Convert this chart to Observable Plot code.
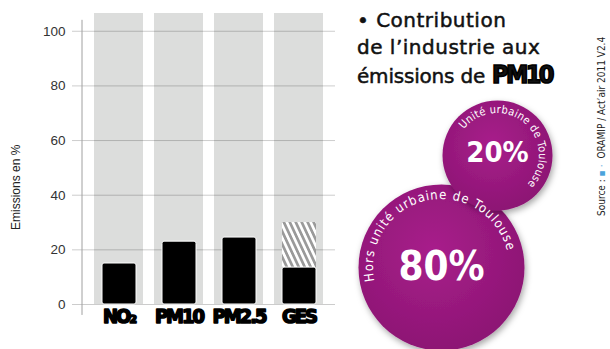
<!DOCTYPE html>
<html><head><meta charset="utf-8">
<script src="https://cdn.jsdelivr.net/npm/d3@7"></script>
<script src="https://cdn.jsdelivr.net/npm/@observablehq/plot@0.6"></script>
<style>
body{margin:0;background:#fff;}
#wrap{position:relative;width:610px;height:349px;overflow:hidden;font-family:"Liberation Sans",Arial,sans-serif;}
#bars,#bubbles{position:absolute;top:0;}
#bars{left:0;} #bubbles{left:340px;}
#title{position:absolute;left:357px;top:7px;font-family:"DejaVu Sans";font-size:20px;line-height:27px;letter-spacing:0.5px;color:#111;white-space:nowrap;-webkit-text-stroke:0.5px #111;}
.tight{letter-spacing:-0.2px;}
.pm{font-family:"DejaVu Sans Condensed","DejaVu Sans";font-weight:bold;font-size:25px;letter-spacing:-2.6px;-webkit-text-stroke:1.6px #000;margin-left:7px;}
#ylabel{position:absolute;left:10px;top:230px;transform:rotate(-90deg);transform-origin:0 0;font-size:12px;line-height:12px;white-space:nowrap;color:#222;}
#source{position:absolute;left:597px;top:216px;transform:rotate(-90deg);transform-origin:0 0;font-family:"DejaVu Sans Condensed","DejaVu Sans";font-size:10px;line-height:10px;white-space:nowrap;color:#222;}
</style></head><body>
<div id="wrap">
  <div id="bars"></div>
  <div id="bubbles"></div>
  <div id="ylabel"></div>
  <div id="title">• Contribution<br>de l’industrie aux<br><span class="tight">émissions de</span><span class="pm">PM10</span></div>
  <div id="source">Source : <span style="color:#4ba3dc;letter-spacing:3px">▪·</span> ORAMIP / Act’air 2011 V2.4</div>
</div>
<script>
// ---- Data ----
const categories = ["NO₂", "PM10", "PM2.5", "GES"];
const industryShare = [15, 23, 24.5, 13.5];
const hatchCategory = ["GES"];
const hatchLow = [13.5];
const hatchHigh = [30];
const yTicks = [0, 20, 40, 60, 80, 100];
const yAxisLabel = "Emissions en %";
const columnTop = 106.5;

const zones = ["Unité urbaine de Toulouse", "Hors unité urbaine de Toulouse"];
const zoneShares = [20, 80];

document.getElementById("ylabel").textContent = yAxisLabel;

// ---- Bar chart ----
const barData = categories.map((c, i) => ({cat: c, value: industryShare[i]}));
const hatchData = hatchCategory.map((c, i) => ({cat: c, y1: hatchLow[i], y2: hatchHigh[i]}));
const labelFont = "Liberation Sans, Arial, sans-serif";

const bars = Plot.plot({
  width: 340, height: 349,
  marginLeft: 72, marginRight: 5, marginTop: 13, marginBottom: 45,
  x: {type: "band", domain: categories, range: [86.7, 330], paddingInner: 0.176, paddingOuter: 0.088, axis: null},
  y: {domain: [0, columnTop], axis: null},
  style: {background: "transparent", overflow: "visible"},
  marks: [
    Plot.barY(categories, {x: d => d, y: () => columnTop, fill: "#dcdddc"}),
    Plot.ruleY(yTicks, {stroke: "#000", strokeOpacity: 0.2}),
    Plot.barY(hatchData, {x: "cat", y1: "y1", y2: "y2", fill: "url(#hatch)", insetLeft: 8, insetRight: 7}),
    Plot.barY(barData, {x: "cat", y: "value", fill: "#000", stroke: "#fff", strokeWidth: 1, insetLeft: 8, insetRight: 7, rx: 2}),
    Plot.text(yTicks, {y: d => d, frameAnchor: "left", dx: -7, textAnchor: "end", fontSize: 13.5, fill: "#333", fontFamily: labelFont}),
    Plot.text(categories, {x: d => d, frameAnchor: "bottom", dy: 18, fontSize: 20, fontWeight: "bold",
      fontFamily: "DejaVu Sans Condensed, DejaVu Sans", fill: "#000", stroke: "#000", strokeWidth: 1.6})
  ]
});
document.getElementById("bars").appendChild(bars);

const bsel = d3.select(bars);
const defs = bsel.insert("defs", ":first-child");
const pat = defs.append("pattern").attr("id", "hatch").attr("patternUnits", "userSpaceOnUse")
  .attr("width", 5.4).attr("height", 10).attr("patternTransform", "rotate(-25)");
pat.append("rect").attr("width", 5.4).attr("height", 10).attr("fill", "#fff");
pat.append("rect").attr("width", 2.7).attr("height", 10).attr("fill", "#9a9a9a");

bsel.selectAll("text").filter(function() { return categories.includes(this.textContent); })
  .style("letter-spacing", "-2px");

const ys = bars.scale("y");
const yf = ys.apply ? ys.apply : d3.scaleLinear(ys.domain, ys.range);
bsel.append("line")
  .attr("x1", 82).attr("x2", 82)
  .attr("y1", yf(104)).attr("y2", yf(-4))
  .attr("stroke", "#a0a0a0").attr("stroke-width", 1);

// ---- Bubbles ----
const bubbleData = zones.map((z, i) => ({zone: z, share: zoneShares[i]}));
const bubbles = Plot.plot({
  width: 270, height: 349, margin: 0,
  x: {type: "point", domain: zones, range: [157, 101], padding: 0, axis: null},
  y: {type: "point", domain: zones, range: [155, 267], padding: 0, axis: null},
  r: {type: "linear", domain: [20, 80], range: [55, 83]},
  style: {background: "transparent", overflow: "visible"},
  marks: [
    Plot.dot(bubbleData, {x: "zone", y: "zone", r: "share", fill: "url(#purple)"}),
    Plot.text(bubbleData.filter(d => d.share === zoneShares[0]), {x: "zone", y: "zone", text: d => d.share + "%",
      fill: "#fff", fontSize: 29, fontWeight: "bold", fontFamily: "DejaVu Sans Condensed, DejaVu Sans", dy: -3}),
    Plot.text(bubbleData.filter(d => d.share === zoneShares[1]), {x: "zone", y: "zone", text: d => d.share + "%",
      fill: "#fff", fontSize: 40, fontWeight: "bold", fontFamily: "DejaVu Sans Condensed, DejaVu Sans", dy: 0})
  ]
});
document.getElementById("bubbles").appendChild(bubbles);

const psel = d3.select(bubbles);
const pdefs = psel.insert("defs", ":first-child");
const grad = pdefs.append("radialGradient").attr("id", "purple").attr("cx", "45%").attr("cy", "40%").attr("r", "60%");
grad.append("stop").attr("offset", "0%").attr("stop-color", "#a81f8b");
grad.append("stop").attr("offset", "100%").attr("stop-color", "#8d1574");
const filt = pdefs.append("filter").attr("id", "shadow").attr("x", "-30%").attr("y", "-30%").attr("width", "160%").attr("height", "160%");
filt.append("feDropShadow").attr("dx", 1.5).attr("dy", 3).attr("stdDeviation", 3).attr("flood-color", "#000").attr("flood-opacity", 0.35);
psel.selectAll("circle").attr("filter", "url(#shadow)");

const sx = bubbles.scale("x"), sy = bubbles.scale("y"), sr = bubbles.scale("r");
const fx = sx.apply ? sx.apply : d3.scalePoint(sx.domain, sx.range).padding(0);
const fy = sy.apply ? sy.apply : d3.scalePoint(sy.domain, sy.range).padding(0);
const fr = sr.apply ? sr.apply : d3.scaleLinear(sr.domain, sr.range);

// curved labels along each bubble's rim
const arcs = [
  {zone: zones[1], share: zoneShares[1], a0: 153, a1: 362, inset: 15, size: 13, spacing: 1.0},
  {zone: zones[0], share: zoneShares[0], a0: 203, a1: 419, inset: 13, size: 11, spacing: 0.3}
];
const arcLayer = psel.append("g");
arcs.forEach((a, i) => {
  const cx = fx(a.zone), cy = fy(a.zone), rr = fr(a.share) - a.inset;
  const t0 = a.a0 * Math.PI / 180, t1 = a.a1 * Math.PI / 180;
  const large = (a.a1 - a.a0) > 180 ? 1 : 0;
  const d = `M${cx + rr * Math.cos(t0)},${cy + rr * Math.sin(t0)} A${rr},${rr} 0 ${large} 1 ${cx + rr * Math.cos(t1)},${cy + rr * Math.sin(t1)}`;
  pdefs.append("path").attr("id", "arc" + i).attr("d", d);
  arcLayer.append("text")
    .attr("fill", "#fff").attr("font-family", "DejaVu Sans Condensed, DejaVu Sans")
    .attr("font-size", a.size).style("letter-spacing", a.spacing + "px")
    .append("textPath").attr("href", "#arc" + i).attr("startOffset", "50%").attr("text-anchor", "middle")
    .text(a.zone);
});
</script>
</body></html>
